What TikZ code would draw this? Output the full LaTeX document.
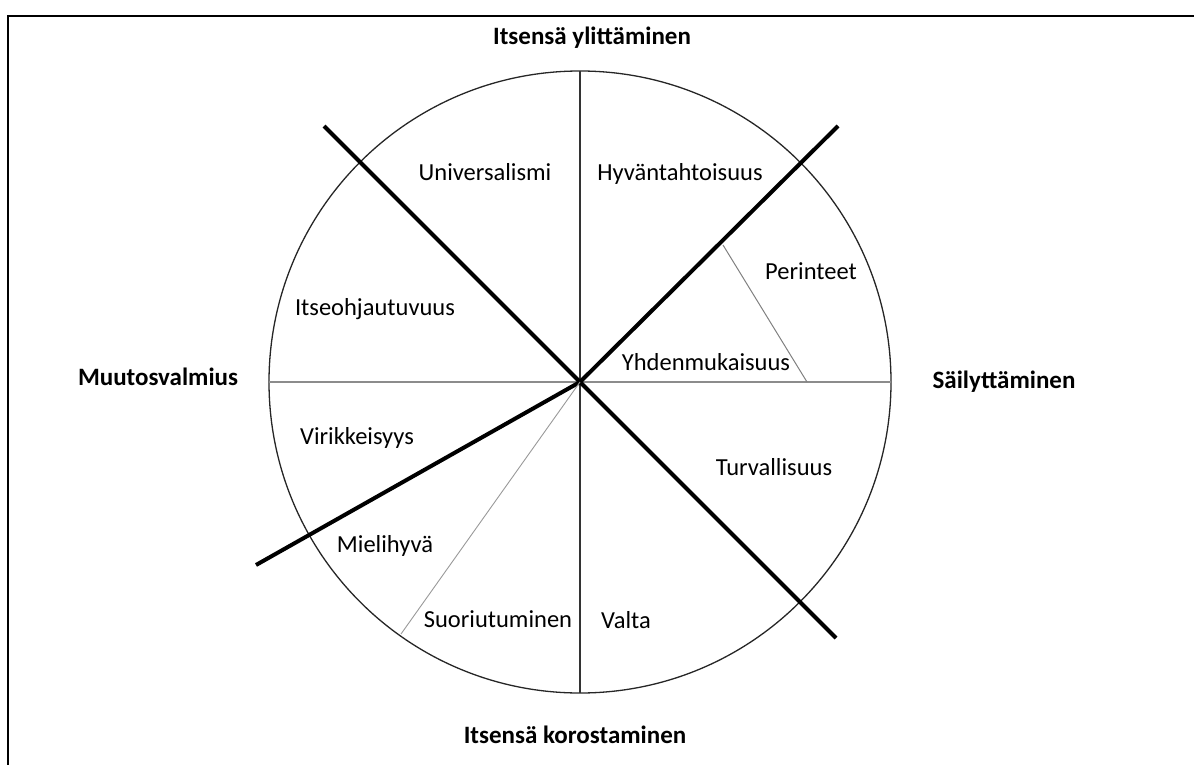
\documentclass[tikz,border=0pt]{standalone}
\usepackage{fontspec}
\setmainfont{Carlito}
\begin{document}
\begin{tikzpicture}[x=1pt,y=-1pt,
  axislabel/.style={font=\fontsize{25}{30}\selectfont\bfseries, anchor=base, inner sep=0pt},
  valuelabel/.style={font=\fontsize{24.5}{29}\selectfont, anchor=base, inner sep=0pt},
  rim/.style={line width=1.3pt, black!85},
  mainaxis/.style={line width=4pt, black},
  vaxis/.style={line width=1.4pt, black!80},
  haxis/.style={line width=1.4pt, black!45},
  subdiv/.style={line width=1pt, black!50},
  subdivlight/.style={line width=0.9pt, black!40},
  frame/.style={line width=2pt, black}]
\useasboundingbox (0,0) rectangle (1194,765);

% frame edges
\coordinate (fl) at (8,765);
\coordinate (ftl) at (8,16);
\coordinate (ftr) at (1194,16);
\draw[frame] (fl) -- (ftl) -- (ftr);

% circle and its centre
\coordinate (c) at (580,382);
\draw[rim] (c) circle (311);

% axes through the centre
\coordinate (top) at (580,71);
\coordinate (bot) at (580,693);
\coordinate (lft) at (269,382);
\coordinate (rgt) at (891,382);
\draw[haxis] (lft) -- (rgt);
\draw[vaxis] (top) -- (bot);

% boundaries between the four higher-order groups
\coordinate (nw) at (324,126);
\coordinate (se) at (836,638);
\coordinate (ne) at (838,126);
\coordinate (sw) at (256,565);
\draw[mainaxis] (nw) -- (se);
\draw[mainaxis] (ne) -- (c) -- (sw);

% extra sector divisions
\coordinate (achv) at (401,634);
\draw[subdivlight] (c) -- (achv);
\coordinate (tradA) at (807,382);
\coordinate (tradB) at (723,245);
\draw[subdiv] (tradA) -- (tradB);

% higher-order dimensions
\node[axislabel] (transc) at (592,45) {Itsensä ylittäminen};
\node[axislabel] (enhance) at (575,743) {Itsensä korostaminen};
\node[axislabel] (openness) at (158,385) {Muutosvalmius};
\node[axislabel] (conserv) at (1004,388) {Säilyttäminen};

% values
\node[valuelabel] (univ) at (485,180) {Universalismi};
\node[valuelabel] (benev) at (680,180) {Hyväntahtoisuus};
\node[valuelabel] (trad) at (811,279) {Perinteet};
\node[valuelabel] (conf) at (706,370) {Yhdenmukaisuus};
\node[valuelabel] (selfdir) at (375,315) {Itseohjautuvuus};
\node[valuelabel] (stim) at (357,444) {Virikkeisyys};
\node[valuelabel] (sec) at (774,475) {Turvallisuus};
\node[valuelabel] (hedon) at (385,552) {Mielihyvä};
\node[valuelabel] (achiev) at (498,627) {Suoriutuminen};
\node[valuelabel] (power) at (626,628) {Valta};
\end{tikzpicture}
\end{document}
